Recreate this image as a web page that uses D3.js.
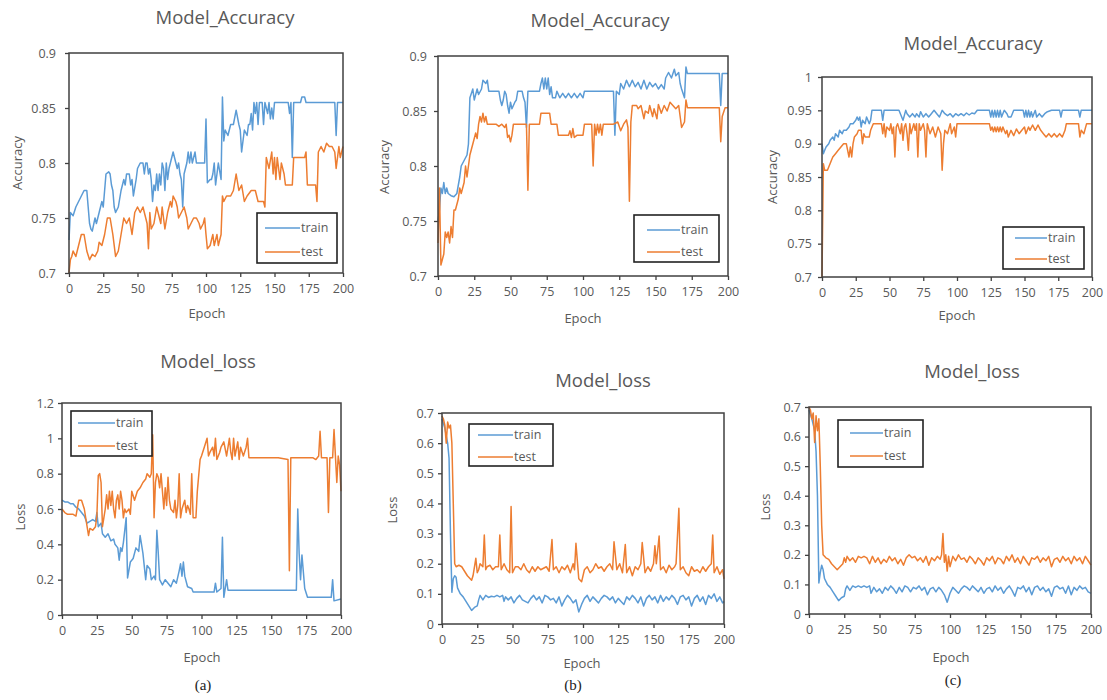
<!DOCTYPE html>
<html><head><meta charset="utf-8">
<script src="https://cdn.jsdelivr.net/npm/d3@7"></script>
<style>body{margin:0;background:#fff}svg{display:block}</style>
</head><body>
<svg id="c" width="1107" height="700"></svg>
<script>
// ---------- data: [epoch, value] ----------
const epochTicks = [0,25,50,75,100,125,150,175,200];
const accTicksAB = [0.7,0.75,0.8,0.85,0.9];
const accTicksC = [0.7,0.75,0.8,0.85,0.9,0.95,1];
const lossTicksA = [0,0.2,0.4,0.6,0.8,1,1.2];
const lossTicksBC = [0,0.1,0.2,0.3,0.4,0.5,0.6,0.7];
const seriesNames = ["train","test"];
const titles = ["Model_Accuracy","Model_loss"];
const captions = ["(a)","(b)","(c)"];

const aAccTrain = [[0,0.73],[1,0.755],[3,0.752],[5,0.76],[7,0.765],[9,0.77],[11,0.775],[13,0.775],[14,0.76],[15,0.745],[16,0.74],[17,0.738],[19,0.75],[20,0.745],[22,0.755],[24,0.765],[25,0.76],[27,0.79],[29,0.792],[30,0.79],[31,0.78],[32,0.775],[33,0.76],[34,0.755],[36,0.76],[38,0.775],[40,0.785],[41,0.78],[42,0.79],[44,0.79],[45,0.78],[46,0.785],[47,0.77],[49,0.785],[50,0.795],[52,0.8],[54,0.8],[55,0.79],[56,0.8],[57,0.8],[58,0.79],[59,0.795],[60,0.785],[61,0.765],[62,0.78],[63,0.775],[64,0.79],[65,0.775],[66,0.79],[67,0.78],[68,0.8],[69,0.795],[70,0.775],[71,0.8],[72,0.785],[73,0.795],[74,0.8],[76,0.81],[77,0.805],[78,0.8],[79,0.795],[80,0.8],[81,0.79],[82,0.785],[83,0.76],[84,0.79],[85,0.795],[86,0.8],[87,0.81],[88,0.8],[89,0.81],[90,0.8],[91,0.805],[92,0.81],[93,0.8],[95,0.8],[96,0.8],[99,0.8],[100,0.84],[101,0.782],[103,0.785],[104,0.785],[105,0.79],[106,0.8],[107,0.78],[108,0.79],[109,0.8],[111,0.785],[112,0.86],[113,0.82],[114,0.83],[116,0.825],[118,0.835],[120,0.835],[122,0.848],[124,0.835],[125,0.83],[126,0.81],[128,0.83],[130,0.825],[131,0.835],[132,0.835],[133,0.845],[134,0.83],[135,0.855],[136,0.845],[137,0.855],[138,0.835],[139,0.855],[141,0.855],[142,0.835],[143,0.855],[145,0.845],[146,0.855],[147,0.84],[148,0.85],[149,0.84],[150,0.855],[160,0.855],[161,0.845],[162,0.855],[163,0.805],[164,0.855],[169,0.855],[170,0.86],[172,0.86],[173,0.855],[194,0.855],[195,0.825],[196,0.855],[200,0.855]];
const aAccTest = [[0,0.7],[1,0.712],[2,0.715],[3,0.72],[5,0.715],[7,0.725],[9,0.735],[11,0.735],[13,0.72],[15,0.712],[17,0.717],[19,0.715],[21,0.72],[22,0.728],[24,0.725],[26,0.735],[28,0.75],[30,0.75],[32,0.735],[34,0.715],[36,0.72],[38,0.735],[40,0.75],[42,0.745],[44,0.75],[46,0.735],[48,0.755],[50,0.76],[52,0.755],[54,0.76],[56,0.75],[57,0.745],[58,0.722],[59,0.755],[60,0.74],[62,0.745],[64,0.76],[65,0.755],[67,0.745],[68,0.76],[70,0.74],[72,0.755],[74,0.765],[75,0.76],[76,0.77],[78,0.765],[79,0.76],[80,0.75],[82,0.755],[84,0.76],[86,0.75],[87,0.74],[89,0.745],[91,0.75],[93,0.75],[95,0.745],[96,0.74],[98,0.745],[99,0.75],[100,0.735],[101,0.722],[103,0.725],[105,0.735],[106,0.725],[108,0.735],[109,0.725],[111,0.735],[112,0.77],[113,0.765],[115,0.77],[118,0.77],[120,0.775],[122,0.79],[124,0.775],[126,0.78],[128,0.765],[130,0.77],[133,0.775],[136,0.775],[138,0.765],[142,0.765],[143,0.76],[144,0.805],[146,0.795],[148,0.81],[149,0.79],[150,0.805],[151,0.785],[152,0.805],[154,0.785],[155,0.8],[157,0.79],[158,0.78],[163,0.78],[164,0.805],[172,0.805],[173,0.81],[174,0.78],[180,0.78],[181,0.765],[182,0.81],[184,0.815],[186,0.81],[188,0.818],[190,0.815],[192,0.815],[194,0.81],[195,0.795],[197,0.815],[198,0.805],[200,0.815]];

const bAccTrain = [[0,0.75],[1,0.76],[2,0.78],[3,0.775],[4,0.785],[5,0.775],[6,0.78],[7,0.775],[9,0.773],[11,0.772],[13,0.775],[15,0.79],[16,0.8],[18,0.805],[20,0.81],[21,0.82],[22,0.862],[23,0.866],[24,0.87],[25,0.86],[27,0.87],[28,0.865],[30,0.87],[31,0.878],[33,0.875],[34,0.878],[35,0.868],[42,0.868],[43,0.86],[44,0.855],[45,0.86],[46,0.868],[47,0.865],[48,0.855],[49,0.848],[50,0.858],[51,0.852],[53,0.858],[54,0.86],[55,0.868],[58,0.868],[59,0.862],[60,0.858],[61,0.835],[62,0.868],[70,0.868],[71,0.875],[72,0.88],[73,0.87],[74,0.88],[75,0.87],[76,0.88],[77,0.865],[78,0.872],[79,0.862],[81,0.862],[82,0.868],[84,0.862],[86,0.866],[88,0.862],[90,0.866],[92,0.862],[94,0.866],[96,0.862],[98,0.866],[100,0.862],[101,0.868],[121,0.868],[122,0.828],[123,0.868],[125,0.865],[126,0.875],[128,0.87],[130,0.878],[132,0.872],[134,0.878],[136,0.872],[138,0.876],[140,0.87],[142,0.878],[144,0.87],[146,0.876],[148,0.872],[150,0.875],[152,0.87],[154,0.874],[156,0.87],[157,0.88],[159,0.885],[161,0.88],[163,0.888],[164,0.882],[166,0.885],[167,0.875],[168,0.87],[170,0.862],[171,0.89],[172,0.884],[194,0.884],[195,0.855],[196,0.884],[200,0.884]];
const bAccTest = [[0,0.73],[1,0.78],[2,0.71],[3,0.715],[4,0.72],[5,0.74],[6,0.735],[7,0.74],[8,0.73],[9,0.745],[10,0.735],[11,0.76],[12,0.76],[13,0.765],[14,0.77],[15,0.78],[16,0.775],[17,0.78],[18,0.785],[19,0.8],[20,0.79],[21,0.8],[22,0.81],[23,0.815],[25,0.825],[26,0.83],[27,0.825],[28,0.838],[29,0.845],[30,0.84],[31,0.848],[32,0.84],[33,0.845],[34,0.838],[40,0.838],[42,0.836],[44,0.838],[46,0.835],[47,0.838],[48,0.826],[49,0.828],[50,0.822],[51,0.828],[52,0.838],[61,0.838],[62,0.778],[63,0.838],[70,0.838],[71,0.848],[77,0.848],[78,0.838],[82,0.838],[83,0.828],[90,0.828],[91,0.832],[92,0.826],[93,0.834],[94,0.826],[96,0.828],[100,0.828],[101,0.838],[106,0.838],[107,0.8],[108,0.838],[109,0.828],[110,0.838],[111,0.83],[112,0.838],[113,0.828],[114,0.838],[121,0.838],[124,0.84],[126,0.832],[128,0.838],[130,0.842],[131,0.835],[132,0.768],[133,0.84],[134,0.855],[137,0.855],[138,0.852],[140,0.855],[142,0.843],[143,0.85],[145,0.848],[146,0.855],[148,0.845],[149,0.852],[151,0.843],[152,0.856],[154,0.848],[156,0.855],[158,0.85],[160,0.858],[162,0.855],[164,0.852],[166,0.855],[167,0.845],[168,0.835],[170,0.84],[171,0.86],[172,0.853],[194,0.853],[195,0.822],[196,0.845],[198,0.853],[200,0.853]];

const cAccTrain = [[0,0.9],[1,0.885],[2,0.89],[3,0.895],[5,0.9],[6,0.905],[8,0.91],[9,0.905],[10,0.915],[12,0.91],[13,0.92],[15,0.915],[16,0.92],[18,0.92],[20,0.925],[21,0.93],[23,0.93],[25,0.935],[26,0.94],[27,0.935],[28,0.94],[29,0.925],[30,0.935],[32,0.93],[33,0.94],[34,0.935],[35,0.93],[36,0.935],[37,0.95],[44,0.95],[45,0.935],[46,0.95],[57,0.95],[60,0.935],[62,0.95],[63,0.945],[65,0.94],[67,0.945],[69,0.94],[70,0.945],[72,0.94],[73,0.948],[75,0.94],[77,0.945],[79,0.94],[81,0.945],[83,0.95],[85,0.945],[87,0.94],[88,0.945],[89,0.95],[91,0.945],[93,0.942],[95,0.945],[97,0.94],[99,0.945],[101,0.942],[103,0.945],[105,0.942],[107,0.946],[109,0.943],[111,0.946],[113,0.945],[115,0.95],[124,0.95],[125,0.94],[126,0.95],[127,0.94],[128,0.95],[129,0.94],[130,0.95],[131,0.94],[132,0.95],[133,0.94],[135,0.95],[137,0.945],[138,0.94],[140,0.94],[141,0.945],[142,0.95],[149,0.95],[150,0.94],[151,0.95],[152,0.94],[153,0.95],[154,0.94],[155,0.948],[156,0.94],[158,0.95],[159,0.94],[161,0.945],[163,0.94],[165,0.945],[167,0.948],[170,0.95],[176,0.95],[177,0.94],[178,0.95],[190,0.95],[191,0.94],[192,0.95],[200,0.95]];
const cAccTest = [[0,0.7],[1,0.87],[2,0.86],[4,0.86],[5,0.865],[7,0.875],[8,0.88],[10,0.885],[12,0.89],[14,0.895],[16,0.9],[18,0.9],[19,0.89],[20,0.88],[21,0.895],[22,0.88],[23,0.9],[24,0.91],[26,0.915],[27,0.92],[29,0.92],[30,0.9],[31,0.915],[32,0.91],[35,0.91],[36,0.92],[38,0.93],[44,0.93],[45,0.915],[46,0.93],[47,0.91],[48,0.925],[50,0.92],[51,0.93],[52,0.915],[53,0.925],[54,0.88],[55,0.925],[56,0.93],[58,0.915],[59,0.93],[60,0.905],[61,0.925],[62,0.93],[63,0.915],[64,0.89],[65,0.93],[66,0.915],[68,0.93],[69,0.92],[70,0.93],[71,0.88],[72,0.93],[73,0.92],[75,0.93],[76,0.92],[77,0.88],[78,0.93],[80,0.915],[82,0.925],[84,0.91],[86,0.925],[88,0.915],[89,0.86],[90,0.9],[91,0.92],[93,0.915],[95,0.93],[96,0.915],[98,0.925],[99,0.91],[100,0.93],[124,0.93],[125,0.92],[126,0.925],[127,0.918],[128,0.925],[129,0.918],[130,0.925],[131,0.918],[132,0.925],[133,0.918],[134,0.925],[136,0.915],[137,0.92],[138,0.91],[140,0.92],[142,0.912],[144,0.922],[146,0.915],[148,0.92],[150,0.925],[151,0.915],[153,0.925],[154,0.92],[156,0.928],[158,0.92],[160,0.928],[162,0.92],[164,0.915],[166,0.91],[168,0.915],[170,0.91],[172,0.915],[174,0.91],[176,0.915],[178,0.91],[180,0.92],[181,0.93],[190,0.93],[191,0.91],[192,0.92],[194,0.915],[196,0.93],[200,0.93]];

const aLossTrain = [[0,0.65],[2,0.64],[4,0.64],[6,0.63],[8,0.63],[10,0.61],[12,0.6],[14,0.58],[16,0.56],[18,0.52],[20,0.53],[22,0.54],[24,0.53],[25,0.58],[26,0.5],[28,0.52],[29,0.46],[31,0.44],[33,0.46],[35,0.42],[37,0.43],[38,0.4],[40,0.38],[41,0.31],[42,0.38],[43,0.36],[44,0.41],[46,0.55],[47,0.21],[49,0.3],[51,0.32],[53,0.38],[55,0.36],[56,0.45],[58,0.35],[60,0.2],[61,0.28],[63,0.26],[64,0.2],[66,0.22],[67,0.2],[68,0.48],[69,0.35],[70,0.2],[72,0.17],[74,0.2],[76,0.18],[78,0.16],[80,0.2],[82,0.18],[84,0.25],[85,0.29],[86,0.22],[87,0.3],[88,0.22],[90,0.16],[93,0.15],[94,0.13],[96,0.13],[109,0.13],[110,0.18],[111,0.13],[114,0.15],[115,0.44],[116,0.1],[118,0.2],[119,0.14],[168,0.14],[169,0.6],[170,0.35],[171,0.2],[172,0.34],[174,0.15],[176,0.1],[193,0.1],[194,0.2],[195,0.08],[200,0.09]];
const aLossTest = [[0,0.6],[2,0.58],[4,0.57],[8,0.57],[10,0.56],[12,0.65],[14,0.65],[16,0.6],[18,0.5],[19,0.45],[20,0.49],[22,0.48],[24,0.5],[25,0.56],[26,0.79],[27,0.8],[28,0.75],[29,0.5],[30,0.55],[31,0.6],[32,0.68],[33,0.6],[34,0.7],[35,0.62],[36,0.7],[37,0.6],[38,0.55],[39,0.65],[40,0.68],[41,0.6],[42,0.7],[43,0.65],[44,0.55],[45,0.6],[46,0.58],[48,0.6],[49,0.57],[50,0.7],[52,0.65],[54,0.7],[56,0.72],[58,0.75],[60,0.77],[61,0.8],[63,0.78],[64,0.8],[65,1.02],[66,0.55],[67,0.75],[68,0.8],[69,0.78],[70,0.72],[71,0.8],[72,0.7],[73,0.6],[74,0.72],[75,0.62],[76,0.78],[77,0.65],[78,0.6],[80,0.58],[81,0.65],[82,0.55],[83,0.62],[84,0.8],[85,0.55],[86,0.6],[88,0.65],[89,0.58],[90,0.62],[91,0.6],[92,0.57],[93,0.8],[94,0.55],[96,0.55],[97,0.7],[99,0.88],[100,0.9],[102,0.95],[104,1.0],[105,0.9],[106,0.92],[108,0.95],[109,0.9],[110,1.0],[111,0.88],[113,0.92],[114,0.95],[116,0.98],[118,0.9],[120,1.0],[121,0.92],[122,0.88],[123,1.0],[124,0.9],[126,0.98],[127,0.88],[128,0.95],[130,0.9],[132,0.95],[133,1.0],[134,0.89],[155,0.89],[162,0.88],[163,0.25],[164,0.89],[180,0.89],[182,0.88],[184,0.9],[185,1.04],[186,0.89],[190,0.89],[191,0.58],[192,0.89],[194,0.89],[195,1.05],[196,0.9],[197,0.75],[198,0.9],[199,0.85],[200,0.7]];

const bLossTrain = [[0,0.68],[2,0.65],[4,0.6],[5,0.55],[6,0.3],[7,0.105],[8,0.15],[9,0.16],[10,0.155],[11,0.12],[13,0.1],[15,0.09],[17,0.075],[19,0.06],[21,0.045],[23,0.055],[25,0.06],[26,0.08],[27,0.095],[29,0.08],[31,0.095],[33,0.088],[35,0.092],[37,0.09],[39,0.095],[41,0.09],[43,0.095],[44,0.075],[45,0.09],[47,0.08],[49,0.09],[51,0.07],[53,0.085],[55,0.095],[57,0.08],[59,0.075],[61,0.07],[63,0.085],[65,0.095],[67,0.08],[69,0.09],[71,0.07],[73,0.095],[75,0.09],[77,0.08],[79,0.085],[81,0.07],[83,0.09],[85,0.06],[87,0.08],[89,0.095],[91,0.085],[93,0.07],[95,0.08],[97,0.04],[99,0.065],[101,0.085],[103,0.095],[105,0.075],[107,0.09],[109,0.08],[111,0.07],[113,0.085],[115,0.095],[117,0.09],[119,0.08],[121,0.09],[123,0.07],[125,0.085],[127,0.075],[129,0.065],[131,0.09],[133,0.08],[135,0.095],[137,0.085],[139,0.07],[141,0.09],[143,0.06],[145,0.085],[147,0.095],[149,0.08],[151,0.09],[153,0.07],[155,0.095],[157,0.075],[159,0.09],[161,0.08],[163,0.095],[165,0.085],[167,0.065],[169,0.09],[171,0.095],[173,0.08],[175,0.09],[177,0.06],[179,0.085],[181,0.095],[183,0.075],[185,0.09],[187,0.065],[189,0.095],[191,0.085],[193,0.1],[195,0.075],[197,0.09],[199,0.07],[200,0.075]];
const bLossTest = [[0,0.69],[1,0.68],[2,0.66],[3,0.6],[4,0.67],[5,0.65],[6,0.66],[7,0.6],[8,0.4],[9,0.2],[10,0.19],[12,0.195],[14,0.19],[16,0.175],[18,0.16],[20,0.15],[21,0.145],[22,0.16],[24,0.218],[25,0.17],[26,0.18],[27,0.2],[29,0.19],[30,0.295],[31,0.18],[32,0.19],[34,0.195],[36,0.18],[38,0.19],[40,0.19],[41,0.295],[42,0.18],[44,0.2],[46,0.18],[48,0.17],[49,0.39],[50,0.17],[52,0.19],[54,0.19],[56,0.18],[58,0.2],[60,0.18],[62,0.17],[64,0.19],[66,0.175],[68,0.19],[70,0.18],[72,0.185],[74,0.19],[76,0.175],[78,0.28],[79,0.18],[81,0.19],[83,0.17],[85,0.19],[87,0.18],[89,0.195],[91,0.17],[93,0.2],[94,0.18],[95,0.268],[97,0.15],[99,0.14],[101,0.18],[103,0.19],[105,0.17],[107,0.18],[109,0.2],[111,0.185],[113,0.19],[115,0.175],[117,0.19],[119,0.2],[121,0.18],[122,0.273],[124,0.18],[126,0.2],[128,0.17],[130,0.264],[131,0.17],[133,0.19],[135,0.16],[137,0.19],[139,0.18],[141,0.2],[142,0.27],[144,0.17],[146,0.19],[148,0.175],[150,0.2],[151,0.26],[152,0.2],[154,0.292],[155,0.18],[157,0.19],[159,0.17],[161,0.195],[163,0.18],[165,0.19],[166,0.2],[168,0.384],[169,0.18],[171,0.19],[173,0.17],[175,0.16],[177,0.19],[179,0.175],[181,0.18],[183,0.17],[185,0.19],[187,0.175],[189,0.19],[191,0.2],[192,0.295],[193,0.17],[195,0.19],[197,0.165],[199,0.18],[200,0.15]];

const cLossTrain = [[0,0.69],[2,0.66],[4,0.62],[5,0.55],[6,0.4],[7,0.105],[8,0.14],[9,0.165],[10,0.15],[11,0.12],[13,0.1],[15,0.09],[17,0.075],[19,0.06],[21,0.045],[23,0.055],[25,0.06],[26,0.085],[27,0.095],[29,0.08],[31,0.095],[33,0.09],[35,0.095],[37,0.09],[39,0.095],[41,0.09],[43,0.095],[44,0.07],[46,0.09],[48,0.075],[50,0.085],[52,0.07],[54,0.09],[56,0.08],[58,0.095],[60,0.085],[62,0.07],[64,0.09],[66,0.075],[68,0.095],[70,0.09],[72,0.075],[74,0.09],[76,0.085],[78,0.095],[80,0.08],[82,0.09],[84,0.065],[86,0.085],[88,0.09],[90,0.075],[92,0.09],[94,0.08],[96,0.065],[98,0.04],[100,0.07],[102,0.09],[104,0.08],[106,0.07],[108,0.085],[110,0.095],[112,0.09],[114,0.08],[116,0.095],[118,0.085],[120,0.075],[122,0.09],[124,0.07],[126,0.085],[128,0.09],[130,0.075],[132,0.095],[134,0.08],[136,0.09],[138,0.07],[140,0.085],[142,0.095],[144,0.08],[146,0.06],[148,0.09],[150,0.085],[152,0.095],[154,0.075],[156,0.09],[158,0.065],[160,0.09],[162,0.095],[164,0.08],[166,0.09],[168,0.075],[170,0.085],[172,0.06],[174,0.09],[176,0.095],[178,0.085],[180,0.09],[182,0.07],[184,0.095],[186,0.065],[188,0.09],[190,0.08],[192,0.095],[194,0.085],[196,0.09],[198,0.075],[200,0.07]];
const cLossTest = [[0,0.7],[1,0.69],[2,0.66],[3,0.68],[4,0.58],[5,0.67],[6,0.62],[7,0.66],[8,0.5],[9,0.3],[10,0.2],[12,0.19],[14,0.185],[16,0.17],[18,0.16],[20,0.15],[22,0.16],[24,0.17],[25,0.19],[26,0.175],[27,0.195],[29,0.18],[31,0.19],[33,0.175],[35,0.195],[37,0.19],[39,0.195],[41,0.19],[43,0.17],[45,0.195],[47,0.175],[49,0.19],[51,0.17],[53,0.185],[55,0.175],[57,0.195],[59,0.18],[61,0.19],[63,0.17],[65,0.185],[67,0.165],[69,0.19],[71,0.2],[73,0.19],[75,0.195],[77,0.18],[79,0.19],[81,0.175],[83,0.195],[85,0.165],[87,0.19],[89,0.18],[91,0.195],[93,0.185],[94,0.2],[95,0.272],[96,0.175],[97,0.2],[98,0.145],[99,0.195],[100,0.16],[102,0.195],[104,0.18],[106,0.2],[108,0.185],[110,0.19],[112,0.175],[114,0.195],[116,0.185],[118,0.17],[120,0.19],[122,0.18],[124,0.165],[126,0.19],[128,0.18],[130,0.195],[132,0.17],[134,0.19],[136,0.185],[138,0.17],[140,0.195],[142,0.18],[144,0.2],[146,0.175],[148,0.19],[150,0.17],[152,0.195],[154,0.18],[156,0.165],[158,0.19],[160,0.185],[162,0.195],[164,0.175],[166,0.19],[168,0.18],[170,0.195],[172,0.16],[174,0.185],[176,0.19],[178,0.175],[180,0.195],[182,0.18],[184,0.19],[186,0.17],[188,0.195],[190,0.18],[192,0.19],[194,0.17],[196,0.195],[198,0.18],[200,0.165]];

// ---------- layout ----------
const COL_TRAIN = "#5b9bd5", COL_TEST = "#ed7d31", TXT = "#595959";
const FONT = "'Open Sans', 'Liberation Sans', sans-serif";
const panels = [
  {x0:69,x1:343,y0:53,y1:273,dom:[0.7,0.9],ticks:accTicksAB,title:titles[0],tx:225,ty:18,yl:"Accuracy",ylx:17,yly:163,xlx:207,xly:313,gap:13,
   lg:{x:257,y:213,w:80,h:50,lx0:265,lx1:300,ya:228,yb:252},train:aAccTrain,test:aAccTest},
  {x0:438,x1:728,y0:56,y1:276,dom:[0.7,0.9],ticks:accTicksAB,title:titles[0],tx:600,ty:21,yl:"Accuracy",ylx:384,yly:167,xlx:583,xly:318,gap:11,
   lg:{x:634,y:215,w:85,h:47,lx0:647,lx1:680,ya:230,yb:252},train:bAccTrain,test:bAccTest},
  {x0:822,x1:1092,y0:77,y1:277,dom:[0.7,1],ticks:accTicksC,title:titles[0],tx:973,ty:44,yl:"Accuracy",ylx:772,yly:177,xlx:957,xly:315,gap:10,
   lg:{x:1003,y:227,w:81,h:42,lx0:1015,lx1:1047,ya:238,yb:259},train:cAccTrain,test:cAccTest},
  {x0:62,x1:341,y0:403,y1:615,dom:[0,1.2],ticks:lossTicksA,title:titles[1],tx:208,ty:362,yl:"Loss",ylx:20,yly:517,xlx:202,xly:657,gap:8,
   lg:{x:71,y:411,w:81,h:45,lx0:78,lx1:115,ya:423,yb:446},train:aLossTrain,test:aLossTest,cap:captions[0],cx:203,cy:685},
  {x0:442,x1:724,y0:413,y1:624,dom:[0,0.7],ticks:lossTicksBC,title:titles[1],tx:603,ty:381,yl:"Loss",ylx:392,yly:510,xlx:582,xly:663,gap:8,
   lg:{x:469,y:424,w:84,h:42,lx0:478,lx1:513,ya:435,yb:457},train:bLossTrain,test:bLossTest,cap:captions[1],cx:573,cy:685},
  {x0:809,x1:1091,y0:407,y1:614,dom:[0,0.7],ticks:lossTicksBC,title:titles[1],tx:972,ty:372,yl:"Loss",ylx:765,yly:507,xlx:951,xly:657,gap:8,
   lg:{x:838,y:420,w:85,h:47,lx0:850,lx1:883,ya:433,yb:456},train:cLossTrain,test:cLossTest,cap:captions[2],cx:953,cy:680}
];

const svg = d3.select("#c");
svg.append("rect").attr("width",1107).attr("height",700).attr("fill","#fff");

panels.forEach(p => {
  const g = svg.append("g");
  const x = d3.scaleLinear().domain([0,200]).range([p.x0,p.x1]);
  const y = d3.scaleLinear().domain(p.dom).range([p.y1,p.y0]);

  g.append("text").attr("x",p.tx).attr("y",p.ty).attr("dy","0.35em").attr("text-anchor","middle")
    .attr("font-family",FONT).attr("font-size",18.5).attr("fill",TXT).text(p.title);

  const xa = g.append("g").attr("transform",`translate(0,${p.y1})`)
    .call(d3.axisBottom(x).tickValues(epochTicks).tickSize(4).tickPadding(7).tickFormat(d3.format("d")));
  const ya = g.append("g").attr("transform",`translate(${p.x0},0)`)
    .call(d3.axisLeft(y).tickValues(p.ticks).tickSize(4).tickPadding(p.gap-4).tickFormat(d => String(+d.toFixed(2))));
  [xa,ya].forEach(a => {
    a.select(".domain").remove();
    a.selectAll(".tick line").attr("stroke","#404040").attr("stroke-width",1.3);
    a.selectAll(".tick text").attr("font-family",FONT).attr("font-size",12.5).attr("fill",TXT);
  });

  const line = d3.line().x(d => x(d[0])).y(d => y(d[1]));
  g.append("path").datum(p.train).attr("d",line).attr("fill","none").attr("stroke",COL_TRAIN)
    .attr("stroke-width",1.5).attr("stroke-linejoin","round");
  g.append("path").datum(p.test).attr("d",line).attr("fill","none").attr("stroke",COL_TEST)
    .attr("stroke-width",1.5).attr("stroke-linejoin","round");

  g.append("rect").attr("x",p.x0).attr("y",p.y0).attr("width",p.x1-p.x0).attr("height",p.y1-p.y0)
    .attr("fill","none").attr("stroke","#404040").attr("stroke-width",1.5);

  g.append("text").attr("transform",`translate(${p.ylx},${p.yly}) rotate(-90)`).attr("dy","0.35em")
    .attr("text-anchor","middle").attr("font-family",FONT).attr("font-size",13).attr("fill",TXT).text(p.yl);
  g.append("text").attr("x",p.xlx).attr("y",p.xly).attr("dy","0.35em").attr("text-anchor","middle")
    .attr("font-family",FONT).attr("font-size",13).attr("fill",TXT).text("Epoch");

  const L = p.lg;
  g.append("rect").attr("x",L.x).attr("y",L.y).attr("width",L.w).attr("height",L.h)
    .attr("fill","#fff").attr("stroke","#222").attr("stroke-width",1.6);
  [[COL_TRAIN,L.ya,seriesNames[0]],[COL_TEST,L.yb,seriesNames[1]]].forEach(([c,yy,t]) => {
    g.append("line").attr("x1",L.lx0).attr("x2",L.lx1).attr("y1",yy).attr("y2",yy).attr("stroke",c).attr("stroke-width",1.5);
    g.append("text").attr("x",L.lx1+1).attr("y",yy).attr("dy","0.35em").attr("font-family",FONT)
      .attr("font-size",12.5).attr("fill",TXT).text(t);
  });

  if (p.cap) {
    g.append("text").attr("x",p.cx).attr("y",p.cy).attr("dy","0.35em").attr("text-anchor","middle")
      .attr("font-family","'Liberation Serif', serif").attr("font-size",15).attr("fill","#222").text(p.cap);
  }
});
</script>
</body></html>
